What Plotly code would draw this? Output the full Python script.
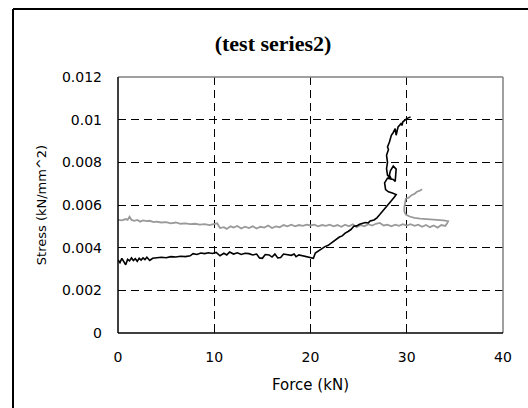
import plotly.graph_objects as go

# ---- data (Force kN, Stress kN/mm^2 x 1e-3) ----
black_force = [0.0,0.2,0.4,0.6,0.8,1.0,1.2,1.4,1.6,1.8,2.0,2.2,2.4,2.6,2.8,3.0,3.3,3.6,4.0,4.5,5.0,5.5,6.0,6.5,7.0,7.5,7.8,8.2,8.6,9.0,9.4,9.8,10.2,10.6,11.0,11.3,11.6,12.0,12.4,12.8,13.2,13.6,14.0,14.4,14.7,15.0,15.3,15.7,16.0,16.3,16.6,16.9,17.2,17.6,18.0,18.3,18.5,18.8,19.2,19.6,20.0,20.3,20.5,20.8,21.2,21.5,21.8,22.1,22.4,22.7,23.0,23.3,23.6,23.9,24.2,24.5,24.8,25.1,25.4,25.7,26.0,26.2,26.6,26.9,27.2,27.5,27.8,28.1,28.4,28.7,28.9,28.5,28.1,27.8,27.7,27.7,28.0,28.6,28.8,28.9,28.9,28.6,28.3,28.2,28.4,28.0,27.9,28.0,27.9,28.1,28.0,28.2,28.3,28.4,28.6,28.8,28.9,29.0,29.1,29.4,29.5,29.6,29.8,30.0,30.4]
black_stress = [3.42,3.30,3.50,3.35,3.20,3.45,3.38,3.52,3.40,3.48,3.36,3.50,3.42,3.52,3.44,3.55,3.40,3.50,3.52,3.55,3.53,3.58,3.56,3.60,3.58,3.62,3.72,3.68,3.75,3.72,3.76,3.73,3.78,3.62,3.74,3.66,3.80,3.70,3.76,3.68,3.74,3.72,3.66,3.70,3.52,3.50,3.68,3.66,3.56,3.70,3.52,3.54,3.70,3.66,3.64,3.70,3.58,3.66,3.62,3.56,3.54,3.50,3.75,3.85,3.95,4.05,4.10,4.20,4.30,4.36,4.50,4.55,4.68,4.76,4.85,5.00,5.02,5.10,5.14,5.18,5.16,5.25,5.30,5.40,5.55,5.70,5.86,6.00,6.20,6.36,6.49,6.56,6.62,6.72,6.90,7.04,7.26,7.20,7.10,7.50,7.68,7.82,7.60,7.40,7.20,7.40,7.70,8.00,8.33,8.60,8.72,8.95,9.10,9.27,9.40,9.58,9.27,9.50,9.66,9.81,9.73,9.90,9.97,10.05,10.13]

gray_force = [0.0,0.4,0.8,1.0,1.2,1.4,1.7,2.0,2.3,2.6,3.0,3.3,3.7,4.0,4.5,5.0,5.5,6.0,6.5,7.0,7.5,8.0,8.5,9.0,9.5,10.0,10.3,10.6,11.0,11.3,11.7,12.0,12.4,12.8,13.2,13.6,14.0,14.4,14.8,15.2,15.6,16.0,16.4,16.8,17.2,17.6,18.0,18.4,18.8,19.2,19.6,20.0,20.4,20.8,21.2,21.6,22.0,22.4,22.8,23.2,23.6,24.0,24.4,24.8,25.2,25.6,26.0,26.4,26.8,27.2,27.6,28.0,28.4,28.8,29.2,29.6,30.0,30.4,30.8,31.2,31.6,32.0,32.4,32.8,33.2,33.6,34.0,34.2,34.3,33.8,33.0,32.2,31.4,30.8,30.3,29.9,29.75,29.75,29.8,29.9,30.2,30.5,30.8,31.05,31.3,31.6]
gray_stress = [5.30,5.28,5.34,5.30,5.45,5.30,5.26,5.30,5.22,5.28,5.24,5.26,5.20,5.22,5.18,5.20,5.14,5.18,5.12,5.14,5.10,5.12,5.08,5.10,5.06,5.10,5.14,4.92,4.96,4.88,5.00,4.94,5.02,4.90,4.98,4.92,5.00,4.90,4.98,4.94,5.04,4.92,5.00,4.96,5.06,5.00,5.08,5.00,5.06,5.02,5.08,5.04,5.08,5.00,5.06,5.02,5.08,5.00,5.06,4.98,5.08,5.00,5.10,4.96,5.06,5.00,5.10,5.04,5.12,5.16,5.04,5.08,5.00,5.08,5.02,5.10,5.04,5.10,5.02,5.08,4.98,5.06,4.96,5.04,4.94,5.06,5.02,5.14,5.24,5.28,5.30,5.33,5.36,5.40,5.46,5.55,5.70,5.90,6.10,6.30,6.34,6.46,6.52,6.62,6.66,6.74]

x_ticks = [0, 10, 20, 30, 40]
y_ticks = [0, 0.002, 0.004, 0.006, 0.008, 0.01, 0.012]
y_tick_labels = ["0", "0.002", "0.004", "0.006", "0.008", "0.01", "0.012"]

title_text = "(test series2)"
x_title = "Force (kN)"
y_title = "Stress (kN/mm^2)"

fig = go.Figure()
fig.add_trace(go.Scatter(x=gray_force, y=[v / 1000 for v in gray_stress], mode="lines",
                         line=dict(color="#9a9a9a", width=1.8), showlegend=False))
fig.add_trace(go.Scatter(x=black_force, y=[v / 1000 for v in black_stress], mode="lines",
                         line=dict(color="black", width=1.6), showlegend=False))

W, H = 528, 408
L, R, T, B = 118, 503, 77, 333
pw, ph = R - L, B - T

def px(xp):
    return (xp - L) / pw

def py(yp):
    return (B - yp) / ph

shapes = [
    # outer frame (top and left edges; the rest lies outside the picture)
    dict(type="line", xref="paper", yref="paper", x0=px(13), x1=px(W + 20), y0=py(9), y1=py(9),
         line=dict(color="black", width=2), layer="above"),
    dict(type="line", xref="paper", yref="paper", x0=px(13), x1=px(13), y0=py(9), y1=py(H + 20),
         line=dict(color="black", width=2), layer="above"),
    # top & right borders (gray)
    dict(type="line", xref="paper", yref="paper", x0=0, x1=1, y0=1, y1=1,
         line=dict(color="#808080", width=1.5), layer="above"),
    dict(type="line", xref="paper", yref="paper", x0=1, x1=1, y0=0, y1=1,
         line=dict(color="#808080", width=1.5), layer="above"),
    # left & bottom axes (black)
    dict(type="line", xref="paper", yref="paper", x0=0, x1=0, y0=0, y1=1,
         line=dict(color="black", width=1.5), layer="above"),
    dict(type="line", xref="paper", yref="paper", x0=0, x1=1, y0=0, y1=0,
         line=dict(color="black", width=1.5), layer="above"),
]

tick_font = dict(family="DejaVu Sans", size=14, color="black")

fig.update_layout(
    width=W, height=H,
    margin=dict(l=L, r=W - R, t=T, b=H - B),
    paper_bgcolor="white", plot_bgcolor="white",
    title=dict(text="<b>" + title_text + "</b>", x=273 / W, xanchor="center",
               y=1 - 43 / H, yanchor="middle",
               font=dict(family="Liberation Serif", size=22, color="black")),
    shapes=shapes,
    xaxis=dict(range=[0, 40], tickvals=x_ticks, ticktext=[str(v) for v in x_ticks],
               showgrid=True, gridcolor="black", gridwidth=1, griddash="8px,5px",
               zeroline=False, showline=False, ticks="inside", ticklen=5, tickcolor="black",
               tickfont=tick_font, ticklabelstandoff=14,
               title=dict(text=x_title, font=dict(family="DejaVu Sans", size=15, color="black"),
                          standoff=15)),
    yaxis=dict(range=[0, 0.012], tickvals=y_ticks, ticktext=y_tick_labels,
               showgrid=True, gridcolor="black", gridwidth=1, griddash="8px,5px",
               zeroline=False, showline=False, ticks="inside", ticklen=6, tickcolor="black",
               tickfont=tick_font, ticklabelstandoff=15,
               title=dict(text=y_title, font=dict(family="DejaVu Sans", size=13, color="black"),
                          standoff=12)),
)

fig.write_html(
    "out.html",
    config={"displayModeBar": False},
    post_script="document.body.style.margin='0';document.body.style.overflow='hidden';",
)
